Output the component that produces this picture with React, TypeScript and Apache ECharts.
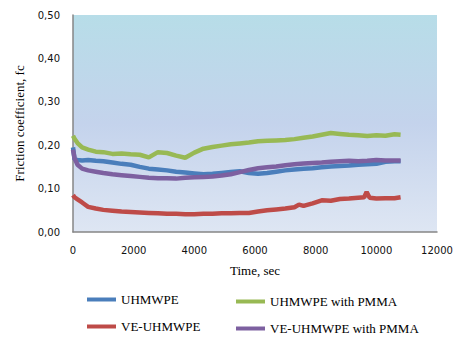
import React, { useEffect, useRef } from "react";
import * as echarts from "echarts";

const seriesNames = ["UHMWPE", "VE-UHMWPE", "UHMWPE with PMMA", "VE-UHMWPE with PMMA"];

const timeSec = [0, 50, 150, 300, 500, 750, 1000, 1300, 1600, 1900, 2200, 2500, 2800, 3100, 3400, 3700, 4000, 4300, 4600, 4900, 5200, 5500, 5800, 6100, 6400, 6700, 7000, 7300, 7600, 7900, 8200, 8500, 8800, 9100, 9400, 9700, 10000, 10300, 10600, 10800];

const uhmwpe = [0.195, 0.168, 0.166, 0.165, 0.166, 0.164, 0.163, 0.16, 0.157, 0.155, 0.15, 0.146, 0.144, 0.142, 0.139, 0.137, 0.135, 0.133, 0.134, 0.136, 0.138, 0.14, 0.136, 0.134, 0.136, 0.139, 0.142, 0.144, 0.146, 0.147, 0.149, 0.151, 0.152, 0.153, 0.155, 0.156, 0.157, 0.162, 0.163, 0.163];

const uhmwpePmma = [0.222, 0.215, 0.205, 0.195, 0.19, 0.185, 0.184, 0.18, 0.181, 0.179, 0.178, 0.172, 0.184, 0.182, 0.176, 0.171, 0.183, 0.192, 0.196, 0.199, 0.202, 0.204, 0.206, 0.209, 0.21, 0.211, 0.212, 0.214, 0.217, 0.22, 0.224, 0.228, 0.226, 0.224, 0.223, 0.221, 0.223, 0.222, 0.225, 0.224];

const veUhmwpePmma = [0.19, 0.17, 0.155, 0.146, 0.142, 0.139, 0.136, 0.133, 0.131, 0.129, 0.127, 0.125, 0.124, 0.124, 0.123, 0.125, 0.126, 0.127, 0.128, 0.13, 0.133, 0.138, 0.143, 0.147, 0.149, 0.151, 0.154, 0.156, 0.158, 0.159, 0.16, 0.162, 0.163, 0.164, 0.163, 0.164, 0.166, 0.165, 0.165, 0.165];

const veTimeSec = [0, 50, 150, 300, 500, 750, 1000, 1300, 1600, 1900, 2200, 2500, 2800, 3100, 3400, 3700, 4000, 4300, 4600, 4900, 5200, 5500, 5800, 6100, 6400, 6700, 7000, 7300, 7450, 7600, 7900, 8200, 8500, 8800, 9100, 9400, 9600, 9680, 9780, 10000, 10300, 10600, 10800];

const veUhmwpe = [0.085, 0.08, 0.075, 0.068, 0.058, 0.054, 0.051, 0.049, 0.047, 0.046, 0.045, 0.044, 0.043, 0.042, 0.042, 0.041, 0.041, 0.042, 0.042, 0.043, 0.043, 0.044, 0.044, 0.047, 0.05, 0.052, 0.054, 0.057, 0.063, 0.06, 0.066, 0.073, 0.072, 0.076, 0.077, 0.079, 0.08, 0.092, 0.079, 0.077, 0.078, 0.078, 0.08];

const yTicks = [0, 0.1, 0.2, 0.3, 0.4, 0.5];
const xTicks = [0, 2000, 4000, 6000, 8000, 10000, 12000];

const colors = ["#4a7ebb", "#be4b48", "#98b954", "#7d60a0"];

const SERIF = "'Liberation Serif', 'Times New Roman', serif";
const SANS = "'DejaVu Sans', Verdana, sans-serif";

function pairs(t: number[], v: number[]) {
  return v.map((y, i) => [t[i], y]);
}

export default function App() {
  const ref = useRef<HTMLDivElement>(null);
  useEffect(() => {
    if (!ref.current) return;
    const chart = echarts.init(ref.current, null, { renderer: "svg" });
    const legendText = { fontFamily: SERIF, fontSize: 13, color: "#000" };
    const mkLegend = (name: string, left: number, top: number) => ({
      data: [name],
      left,
      top,
      orient: "vertical",
      icon: "rect",
      itemWidth: 29,
      itemHeight: 4,
      itemGap: 0,
      textStyle: legendText,
    });
    chart.setOption({
      animation: false,
      color: colors,
      grid: { left: 73, top: 15, right: 25, bottom: 106, containLabel: false },
      legend: [
        mkLegend(seriesNames[0], 82, 288),
        mkLegend(seriesNames[1], 82, 315),
        mkLegend(seriesNames[2], 231, 290),
        mkLegend(seriesNames[3], 231, 317),
      ],
      graphic: [
        {
          type: "rect",
          shape: { x: 73, y: 15, width: 364, height: 217 },
          z: -10,
          style: {
            fill: new echarts.graphic.LinearGradient(0, 0, 0, 1, [
              { offset: 0, color: "#b7dde8" },
              { offset: 0.5, color: "#c4d3ec" },
              { offset: 1, color: "#dee6f3" },
            ]),
          },
        },
      ],
      xAxis: {
        type: "value",
        min: xTicks[0],
        max: xTicks[xTicks.length - 1],
        interval: 2000,
        name: "Time, sec",
        nameLocation: "middle",
        nameGap: 32,
        nameTextStyle: { fontFamily: SERIF, fontSize: 13, color: "#000" },
        axisLine: { show: true, lineStyle: { color: "#868686", width: 1.5 } },
        axisTick: { show: false },
        splitLine: { show: false },
        axisLabel: {
          fontFamily: SANS,
          fontSize: 10,
          color: "#111",
          margin: 13,
          formatter: (v: number) => String(v),
        },
      },
      yAxis: {
        type: "value",
        min: yTicks[0],
        max: yTicks[yTicks.length - 1],
        interval: 0.1,
        name: "Friction coefficient, fc",
        nameLocation: "middle",
        nameGap: 47,
        nameTextStyle: { fontFamily: SERIF, fontSize: 13, color: "#000" },
        axisLine: { show: true, lineStyle: { color: "#868686", width: 1.5 } },
        axisTick: { show: false },
        splitLine: { show: false },
        axisLabel: {
          fontFamily: SANS,
          fontSize: 10,
          color: "#111",
          margin: 13,
          formatter: (v: number) => v.toFixed(2).replace(".", ","),
        },
      },
      series: [
        { name: seriesNames[0], data: pairs(timeSec, uhmwpe) },
        { name: seriesNames[1], data: pairs(veTimeSec, veUhmwpe) },
        { name: seriesNames[2], data: pairs(timeSec, uhmwpePmma) },
        { name: seriesNames[3], data: pairs(timeSec, veUhmwpePmma) },
      ].map((s, i) => ({
        ...s,
        type: "line",
        showSymbol: false,
        symbol: "none",
        lineStyle: { width: 4.5, color: colors[i] },
        itemStyle: { color: colors[i] },
        z: 2,
      })),
    });
    return () => chart.dispose();
  }, []);
  return <div ref={ref} style={{ width: 462, height: 338, position: "absolute", left: 0, top: 0 }} />;
}
